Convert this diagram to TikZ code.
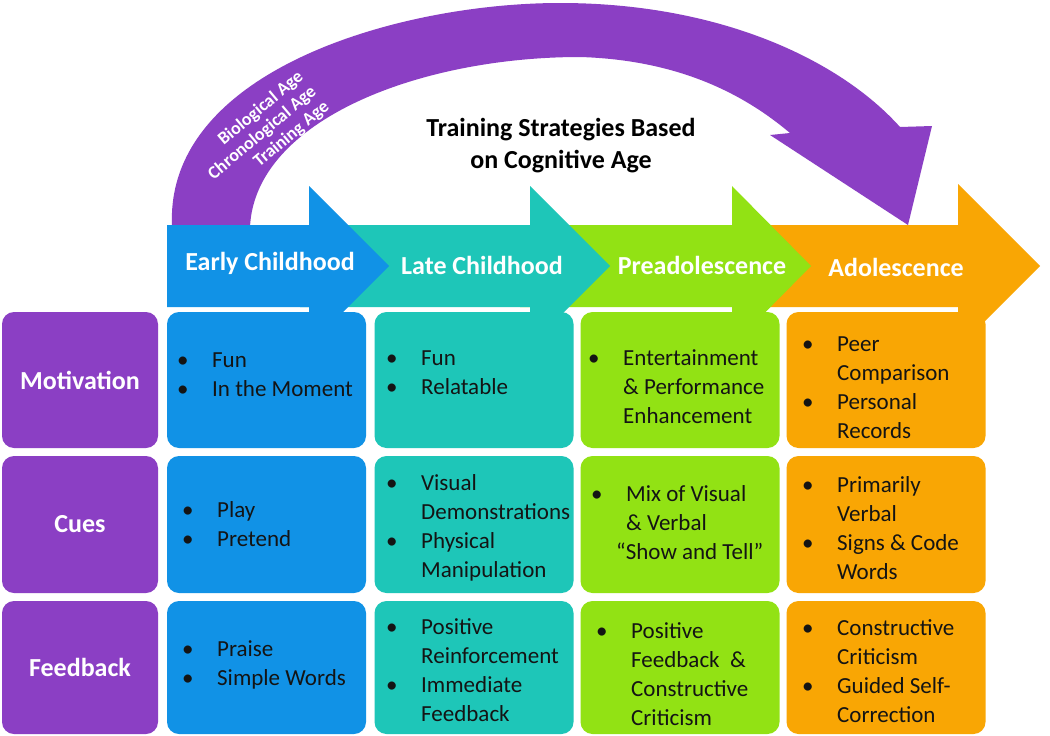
\documentclass[tikz,border=0pt]{standalone}
\usepackage{fontspec}
\setmainfont{Carlito}
\usepackage{array}
\definecolor{cpurple}{RGB}{139,63,196}
\definecolor{cblue}{RGB}{17,146,230}
\definecolor{cteal}{RGB}{30,198,184}
\definecolor{cgreen}{RGB}{146,226,20}
\definecolor{corange}{RGB}{249,166,4}
\definecolor{ctext}{RGB}{20,20,20}
\newcommand{\bul}{\textbullet}
\newcommand{\blist}[1]{\begin{tabular}[t]{@{}p{35pt}@{}l@{}}#1\end{tabular}}
\begin{document}
\begin{tikzpicture}[x=1pt,y=-1pt,
 cell/.style={rounded corners=12pt, minimum width=199pt, inner sep=0pt, draw=none},
 rowlab/.style={cell, fill=cpurple, minimum width=156pt, text=white, font=\fontsize{26}{30}\selectfont\bfseries},
 rA/.style={minimum height=136pt},
 rB/.style={minimum height=137pt},
 rC/.style={minimum height=133pt},
 list/.style={anchor=base west, inner sep=0pt, text=ctext, font=\fontsize{23}{29}\selectfont},
 stage/.style={text=white, inner sep=0pt, font=\fontsize{26}{30}\selectfont\bfseries},
 agetxt/.style={anchor=east, rotate=40, text=white, inner sep=0pt, font=\fontsize{18}{20}\selectfont\bfseries},
 title/.style={align=center, text=black, font=\fontsize{26}{32}\selectfont\bfseries}]
\useasboundingbox (0,0) rectangle (1050,736);
\fill[white] (0,0) rectangle (1050,736);

% row labels
\node[rowlab, rA] (lmot) at (80,380) {Motivation};
\node[rowlab, rB] (lcue) at (80,524.5) {Cues};
\node[rowlab, rC] (lfed) at (80,667.5) {Feedback};

% cells
\node[cell, rA, fill=cblue] (b11) at (266.5,380) {};
\node[cell, rB, fill=cblue] (b12) at (266.5,524.5) {};
\node[cell, rC, fill=cblue] (b13) at (266.5,667.5) {};
\node[cell, rA, fill=cteal] (b21) at (474,380) {};
\node[cell, rB, fill=cteal] (b22) at (474,524.5) {};
\node[cell, rC, fill=cteal] (b23) at (474,667.5) {};
\node[cell, rA, fill=cgreen] (b31) at (680,380) {};
\node[cell, rB, fill=cgreen] (b32) at (680,524.5) {};
\node[cell, rC, fill=cgreen] (b33) at (680,667.5) {};
\node[cell, rA, fill=corange] (b41) at (886,380) {};
\node[cell, rB, fill=corange] (b42) at (886,524.5) {};
\node[cell, rC, fill=corange] (b43) at (886,667.5) {};

% purple arc
\fill[cpurple] (172,226) .. controls (165,70) and (400,3) .. (560,3)
  .. controls (720,3) and (840,60) .. (900,127) -- (932,126) -- (908,225) -- (770,135) -- (790,133)
  .. controls (745,95) and (680,60) .. (580,57)
  .. controls (420,57) and (255,120) .. (250,227) -- cycle;
\node[agetxt] (bio) at (301,75) {Biological Age};
\node[agetxt] (chr) at (314,90) {Chronological Age};
\node[agetxt] (trn) at (327,105) {Training Age};

\node[title] (ttl) at (561,146) {Training Strategies Based\\on Cognitive Age};

% stage arrows
\fill[corange] (740,225) -- (958,225) -- (958,184) -- (1040,266) -- (958,348) -- (958,307) -- (740,307) -- cycle;
\fill[cgreen] (520,225) -- (732,225) -- (732,186) -- (811,266) -- (732,346) -- (732,307) -- (520,307) -- cycle;
\fill[cteal] (300,225) -- (530,225) -- (530,186) -- (610,266) -- (530,346) -- (530,307) -- (300,307) -- cycle;
\fill[cblue] (167,225) -- (309,225) -- (309,186) -- (389,266) -- (309,346) -- (309,307) -- (167,307) -- cycle;

\node[stage] (s1) at (270,263) {Early Childhood};
\node[stage] (s2) at (482,265) {Late Childhood};
\node[stage] (s3) at (702,265) {Preadolescence};
\node[stage] (s4) at (896,267) {Adolescence};

% cell texts
\node[list] (t11) at (177,367) {\blist{\bul & Fun\\ \bul & In the Moment}};
\node[list] (t12) at (182,517) {\blist{\bul & Play\\ \bul & Pretend}};
\node[list] (t13) at (182,656) {\blist{\bul & Praise\\ \bul & Simple Words}};
\node[list] (t21) at (386,365) {\blist{\bul & Fun\\ \bul & Relatable}};
\node[list] (t22) at (386,490) {\blist{\bul & Visual\\ & Demonstrations\\ \bul & Physical\\ & Manipulation}};
\node[list] (t23) at (386,634) {\blist{\bul & Positive\\ & Reinforcement\\ \bul & Immediate\\ & Feedback}};
\node[list] (t31) at (588,365) {\blist{\bul & Entertainment\\ & \& Performance\\ & Enhancement}};
\node[list] (t32) at (591,501) {\blist{\bul & Mix of Visual\\ & \& Verbal\\ & \hspace*{-10pt}“Show and Tell”}};
\node[list] (t33) at (596,638) {\blist{\bul & Positive\\ & Feedback\ \ \&\\ & Constructive\\ & Criticism}};
\node[list] (t41) at (802,351) {\blist{\bul & Peer\\ & Comparison\\ \bul & Personal\\ & Records}};
\node[list] (t42) at (802,492) {\blist{\bul & Primarily\\ & Verbal\\ \bul & Signs \& Code\\ & Words}};
\node[list] (t43) at (802,635) {\blist{\bul & Constructive\\ & Criticism\\ \bul & Guided Self-\\ & Correction}};
\end{tikzpicture}
\end{document}
